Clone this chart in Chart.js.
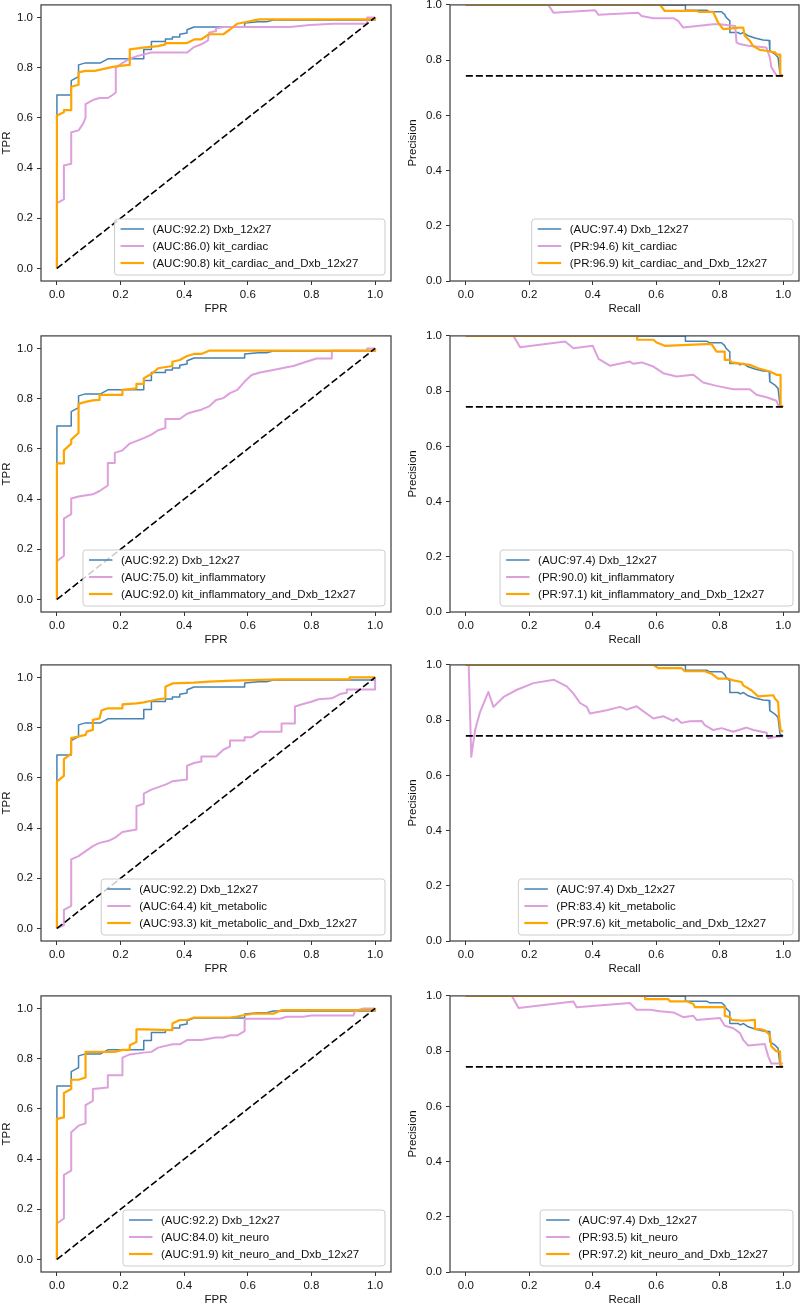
<!DOCTYPE html>
<html>
<head>
<meta charset="utf-8">
<script src="https://cdn.jsdelivr.net/npm/chart.js@4.4.0/dist/chart.umd.min.js"></script>
<style>
  html, body { margin: 0; padding: 0; background: #fff; }
  #wrap { position: relative; width: 800px; height: 1305px; overflow: hidden; }
  #wrap canvas { position: absolute; }
</style>
</head>
<body>
<div id="wrap"></div>
<script>
// ---- data ----
const kitNames = ['kit_cardiac', 'kit_inflammatory', 'kit_metabolic', 'kit_neuro'];
const baseName = 'Dxb_12x27';
const baseRocAuc = 92.2;
const basePrAuc = 97.4;
const kitRocAuc = [86.0, 75.0, 64.4, 84.0];
const comboRocAuc = [90.8, 92.0, 93.3, 91.9];
const kitPrAuc = [94.6, 90.0, 83.4, 93.5];
const comboPrAuc = [96.9, 97.1, 97.6, 97.2];
const unitTicks = [0, 0.2, 0.4, 0.6, 0.8, 1.0];
const prBaseline = 0.743;
const chanceRoc = [[0, 0], [1, 1]];

// ROC curves [fpr, tpr]
const baseRoc = [[0,0],[0,0.609],[0,0.691],[0.045,0.691],[0.045,0.748],[0.068,0.764],[0.068,0.811],[0.09,0.819],[0.137,0.819],[0.16,0.835],[0.273,0.835],[0.273,0.872],[0.297,0.872],[0.297,0.904],[0.341,0.904],[0.341,0.914],[0.363,0.914],[0.363,0.922],[0.386,0.922],[0.386,0.933],[0.409,0.938],[0.409,0.951],[0.431,0.962],[0.59,0.962],[0.59,0.978],[0.633,0.983],[0.659,0.983],[0.68,0.99],[1,0.99],[1,1]];
const cardiacRoc = [[0,0],[0,0.26],[0.022,0.275],[0.022,0.41],[0.045,0.417],[0.045,0.543],[0.068,0.55],[0.082,0.576],[0.09,0.6],[0.09,0.655],[0.113,0.671],[0.134,0.679],[0.16,0.679],[0.176,0.692],[0.185,0.701],[0.185,0.8],[0.208,0.82],[0.229,0.836],[0.255,0.847],[0.297,0.86],[0.409,0.86],[0.431,0.882],[0.454,0.893],[0.475,0.909],[0.478,0.939],[0.5,0.946],[0.5,0.956],[0.523,0.962],[0.732,0.962],[0.795,0.97],[0.869,0.975],[0.975,0.975],[0.975,1],[1,1]];
const cardiacComboRoc = [[0,0],[0,0.609],[0.022,0.622],[0.022,0.631],[0.045,0.631],[0.045,0.724],[0.068,0.732],[0.068,0.781],[0.09,0.787],[0.119,0.787],[0.176,0.803],[0.197,0.807],[0.229,0.811],[0.229,0.873],[0.271,0.88],[0.318,0.886],[0.341,0.893],[0.341,0.898],[0.409,0.898],[0.433,0.913],[0.454,0.913],[0.478,0.933],[0.523,0.933],[0.544,0.952],[0.567,0.975],[0.59,0.981],[0.617,0.988],[0.638,0.992],[1,0.992],[1,1]];
const inflamRoc = [[0,0],[0,0.152],[0.022,0.174],[0.022,0.322],[0.045,0.34],[0.045,0.402],[0.068,0.41],[0.113,0.419],[0.134,0.432],[0.16,0.454],[0.16,0.544],[0.182,0.544],[0.182,0.584],[0.206,0.594],[0.229,0.621],[0.273,0.643],[0.297,0.657],[0.318,0.674],[0.341,0.683],[0.341,0.719],[0.386,0.719],[0.409,0.74],[0.431,0.749],[0.454,0.756],[0.478,0.769],[0.5,0.795],[0.523,0.802],[0.544,0.822],[0.567,0.835],[0.59,0.868],[0.612,0.894],[0.638,0.904],[0.68,0.914],[0.722,0.925],[0.743,0.93],[0.774,0.943],[0.816,0.96],[0.864,0.96],[0.864,0.991],[0.975,0.991],[0.975,1],[1,1]];
const inflamComboRoc = [[0,0],[0,0.542],[0.022,0.542],[0.022,0.594],[0.045,0.621],[0.045,0.637],[0.068,0.663],[0.068,0.779],[0.09,0.787],[0.113,0.793],[0.134,0.795],[0.134,0.815],[0.206,0.815],[0.206,0.835],[0.25,0.841],[0.25,0.859],[0.273,0.859],[0.273,0.881],[0.297,0.898],[0.318,0.921],[0.363,0.93],[0.363,0.947],[0.386,0.954],[0.409,0.97],[0.431,0.978],[0.454,0.978],[0.478,0.991],[1,0.991],[1,1]];
const metabRoc = [[0,0],[0.022,0.013],[0.022,0.074],[0.045,0.09],[0.045,0.275],[0.068,0.288],[0.113,0.328],[0.134,0.341],[0.16,0.348],[0.182,0.361],[0.206,0.384],[0.25,0.394],[0.25,0.487],[0.273,0.497],[0.273,0.537],[0.297,0.553],[0.341,0.573],[0.363,0.586],[0.409,0.593],[0.409,0.648],[0.431,0.659],[0.454,0.665],[0.454,0.685],[0.5,0.685],[0.523,0.712],[0.544,0.725],[0.544,0.749],[0.59,0.749],[0.59,0.762],[0.612,0.762],[0.638,0.784],[0.706,0.784],[0.706,0.817],[0.748,0.817],[0.748,0.884],[0.774,0.894],[0.8,0.903],[0.822,0.913],[0.864,0.917],[0.89,0.934],[0.911,0.939],[0.911,0.952],[1,0.952],[1,1]];
const metabComboRoc = [[0,0],[0,0.585],[0.022,0.608],[0.022,0.675],[0.045,0.696],[0.045,0.758],[0.09,0.771],[0.094,0.784],[0.113,0.791],[0.113,0.831],[0.134,0.837],[0.14,0.868],[0.16,0.877],[0.206,0.877],[0.206,0.893],[0.25,0.897],[0.273,0.901],[0.297,0.907],[0.318,0.913],[0.341,0.917],[0.341,0.963],[0.363,0.976],[0.431,0.979],[0.478,0.983],[0.554,0.987],[0.7,0.992],[0.92,0.992],[0.92,1],[1,1]];
const neuroRoc = [[0,0],[0,0.143],[0.022,0.163],[0.022,0.337],[0.045,0.354],[0.045,0.507],[0.068,0.533],[0.09,0.542],[0.09,0.615],[0.113,0.632],[0.113,0.679],[0.16,0.685],[0.16,0.734],[0.206,0.734],[0.206,0.804],[0.229,0.817],[0.273,0.824],[0.297,0.827],[0.318,0.844],[0.363,0.857],[0.386,0.857],[0.409,0.874],[0.454,0.874],[0.5,0.884],[0.523,0.884],[0.544,0.893],[0.567,0.893],[0.59,0.91],[0.59,0.959],[0.701,0.959],[0.722,0.967],[0.774,0.967],[0.8,0.972],[0.932,0.972],[0.937,0.989],[0.963,1],[1,1]];
const neuroComboRoc = [[0,0],[0,0.56],[0.022,0.566],[0.022,0.663],[0.045,0.679],[0.045,0.716],[0.068,0.716],[0.09,0.725],[0.09,0.827],[0.182,0.827],[0.206,0.835],[0.229,0.835],[0.229,0.853],[0.25,0.866],[0.25,0.917],[0.273,0.917],[0.363,0.914],[0.363,0.94],[0.386,0.954],[0.409,0.954],[0.431,0.964],[0.544,0.964],[0.567,0.968],[0.59,0.974],[0.617,0.979],[0.68,0.979],[0.706,0.993],[1,0.993],[1,1]];

// PR curves [recall, precision]
const basePr = [[0,1],[0.692,1],[0.692,0.981],[0.759,0.981],[0.769,0.975],[0.806,0.975],[0.816,0.965],[0.82,0.955],[0.832,0.942],[0.832,0.9],[0.858,0.9],[0.865,0.895],[0.875,0.9],[0.89,0.888],[0.911,0.88],[0.937,0.873],[0.956,0.871],[0.958,0.834],[0.974,0.822],[0.984,0.81],[0.99,0.75],[1,0.743]];
const cardiacPr = [[0,1],[0.26,1],[0.276,0.972],[0.407,0.981],[0.418,0.964],[0.543,0.972],[0.554,0.96],[0.591,0.952],[0.654,0.952],[0.669,0.942],[0.685,0.918],[0.779,0.93],[0.8,0.93],[0.849,0.924],[0.853,0.864],[0.863,0.858],[0.89,0.852],[0.947,0.846],[0.958,0.81],[0.963,0.774],[0.979,0.744],[1,0.743]];
const cardiacComboPr = [[0,1],[0.612,1],[0.627,0.978],[0.727,0.978],[0.735,0.975],[0.779,0.975],[0.786,0.958],[0.795,0.936],[0.811,0.912],[0.863,0.918],[0.874,0.918],[0.879,0.888],[0.895,0.87],[0.905,0.852],[0.926,0.837],[0.947,0.834],[0.974,0.828],[0.981,0.82],[0.991,0.82],[0.991,0.744],[1,0.743]];
const inflamPr = [[0,1],[0.15,1],[0.171,0.959],[0.313,0.98],[0.339,0.955],[0.4,0.964],[0.418,0.917],[0.454,0.892],[0.517,0.907],[0.528,0.899],[0.554,0.904],[0.591,0.889],[0.622,0.865],[0.664,0.853],[0.717,0.859],[0.748,0.831],[0.79,0.819],[0.843,0.807],[0.895,0.807],[0.916,0.787],[0.948,0.778],[0.979,0.765],[0.986,0.745],[1,0.745]];
const inflamComboPr = [[0,1],[0.54,1],[0.54,0.986],[0.591,0.986],[0.601,0.976],[0.627,0.964],[0.774,0.971],[0.79,0.943],[0.816,0.943],[0.816,0.913],[0.832,0.913],[0.837,0.904],[0.895,0.895],[0.921,0.883],[0.958,0.871],[0.979,0.859],[0.992,0.859],[0.992,0.747],[1,0.745]];
const metabPr = [[0,1],[0.009,1],[0.017,0.667],[0.029,0.764],[0.045,0.83],[0.071,0.902],[0.087,0.848],[0.119,0.884],[0.161,0.91],[0.213,0.934],[0.278,0.946],[0.318,0.922],[0.339,0.896],[0.36,0.862],[0.381,0.848],[0.391,0.824],[0.444,0.836],[0.486,0.848],[0.507,0.838],[0.538,0.85],[0.591,0.806],[0.622,0.814],[0.654,0.797],[0.664,0.806],[0.68,0.79],[0.706,0.796],[0.743,0.797],[0.753,0.782],[0.78,0.764],[0.806,0.771],[0.843,0.758],[0.885,0.773],[0.906,0.764],[0.948,0.754],[0.953,0.734],[0.979,0.74],[1,0.742]];
const metabComboPr = [[0,1],[0.591,1],[0.606,0.988],[0.68,0.988],[0.69,0.977],[0.753,0.977],[0.774,0.968],[0.795,0.95],[0.827,0.95],[0.843,0.944],[0.869,0.938],[0.874,0.926],[0.9,0.908],[0.921,0.886],[0.969,0.89],[0.974,0.878],[0.984,0.866],[0.987,0.812],[0.992,0.764],[1,0.758]];
const neuroPr = [[0,1],[0.145,1],[0.166,0.956],[0.339,0.98],[0.349,0.959],[0.517,0.974],[0.538,0.95],[0.58,0.95],[0.612,0.944],[0.654,0.94],[0.685,0.923],[0.717,0.928],[0.727,0.913],[0.801,0.92],[0.816,0.892],[0.843,0.883],[0.864,0.865],[0.874,0.841],[0.89,0.82],[0.942,0.826],[0.953,0.781],[0.963,0.755],[1,0.755]];
const neuroComboPr = [[0,1],[0.565,1],[0.565,0.988],[0.638,0.988],[0.643,0.98],[0.698,0.98],[0.717,0.971],[0.722,0.959],[0.816,0.959],[0.816,0.928],[0.832,0.923],[0.837,0.913],[0.874,0.91],[0.911,0.913],[0.911,0.88],[0.927,0.88],[0.942,0.875],[0.958,0.859],[0.963,0.817],[0.979,0.799],[0.99,0.799],[0.992,0.743],[1,0.743]];

const kitRocCurves = [cardiacRoc, inflamRoc, metabRoc, neuroRoc];
const comboRocCurves = [cardiacComboRoc, inflamComboRoc, metabComboRoc, neuroComboRoc];
const kitPrCurves = [cardiacPr, inflamPr, metabPr, neuroPr];
const comboPrCurves = [cardiacComboPr, inflamComboPr, metabComboPr, neuroComboPr];

// ---- styling / layout ----
const FONT = "'Liberation Sans', Arial, Helvetica, sans-serif";
const FONT_SIZE = 11.5;
Chart.defaults.font.family = FONT;
Chart.defaults.font.size = FONT_SIZE;
Chart.defaults.color = '#111';

const BLUE = '#4682b4', PINK = '#dda0dd', ORANGE = '#ffa500';
const rowTops = [4, 335, 664, 995];
const boxH = 277;
const PAD_TOP = 10, XAXIS_H = 36;

// box around the plot area (matplotlib spines)
const frame = {
  id: 'frame',
  afterDraw(chart) {
    const { ctx, chartArea: a } = chart;
    ctx.save();
    ctx.strokeStyle = '#3a3a3a';
    ctx.lineWidth = 1.2;
    ctx.strokeRect(a.left, a.top, a.right - a.left, a.bottom - a.top);
    ctx.restore();
  }
};

// legend box in lower right corner, semi transparent like matplotlib
const boxLegend = {
  id: 'boxLegend',
  afterDatasetsDraw(chart) {
    const items = chart.data.datasets.filter(d => d.label);
    const ctx = chart.ctx, a = chart.chartArea;
    ctx.save();
    ctx.font = FONT_SIZE + 'px ' + FONT;
    const tw = Math.max(...items.map(d => ctx.measureText(d.label).width));
    const w = 38 + tw * 1.1 + 6, h = 56;
    const x0 = a.right - 6 - w, y0 = a.bottom - 6 - h;
    ctx.beginPath();
    ctx.roundRect(x0, y0, w, h, 3);
    ctx.fillStyle = 'rgba(255,255,255,0.8)';
    ctx.fill();
    ctx.strokeStyle = 'rgba(200,200,200,0.9)';
    ctx.lineWidth = 1;
    ctx.stroke();
    items.forEach((d, i) => {
      const cy = y0 + 10 + 17 * i;
      ctx.beginPath();
      ctx.moveTo(x0 + 6, cy);
      ctx.lineTo(x0 + 29.5, cy);
      ctx.strokeStyle = d.borderColor;
      ctx.lineWidth = d.borderWidth;
      ctx.stroke();
      ctx.fillStyle = '#111';
      ctx.textBaseline = 'middle';
      ctx.fillText(d.label, x0 + 38, cy + 0.5);
    });
    ctx.restore();
  }
};

function toPts(arr) {
  return arr.map(p => ({ x: p[0], y: p[1] }));
}

function curve(label, pts, color, width, order) {
  return {
    label: label, data: toPts(pts), borderColor: color, borderWidth: width,
    pointRadius: 0, tension: 0, fill: false, order: order, borderJoinStyle: 'round'
  };
}

function dashed(pts) {
  return {
    data: toPts(pts), borderColor: '#000', borderWidth: 1.6, borderDash: [7, 3],
    pointRadius: 0, tension: 0, fill: false, order: 0
  };
}

function makeChart(col, row, datasets, xTitle, yTitle, yMin, yMax) {
  const canvas = document.createElement('canvas');
  const left = col === 0 ? 0 : 400;
  const yAxisW = col === 0 ? 41 : 50;
  const padRight = col === 0 ? 9 : 1;
  canvas.width = 400;
  canvas.height = PAD_TOP + boxH + XAXIS_H;
  canvas.style.left = left + 'px';
  canvas.style.top = (rowTops[row] - PAD_TOP) + 'px';
  document.getElementById('wrap').appendChild(canvas);

  const tickGrid = { drawOnChartArea: false, drawTicks: true, tickLength: 4, tickColor: '#333', tickWidth: 1 };

  new Chart(canvas, {
    type: 'line',
    data: { datasets: datasets },
    options: {
      responsive: false,
      animation: false,
      devicePixelRatio: 1,
      layout: { padding: { top: PAD_TOP, right: padRight, left: 0, bottom: 0 } },
      plugins: { legend: { display: false }, tooltip: { enabled: false } },
      scales: {
        x: {
          type: 'linear', min: -0.05, max: 1.05,
          afterBuildTicks: s => { s.ticks = unitTicks.map(v => ({ value: v })); },
          afterFit: s => { s.height = XAXIS_H; },
          ticks: { callback: v => v.toFixed(1), padding: 3, maxRotation: 0, autoSkip: false },
          grid: tickGrid,
          border: { display: false },
          title: { display: true, text: xTitle, padding: { top: 0, bottom: 1 } }
        },
        y: {
          type: 'linear', min: yMin, max: yMax,
          afterBuildTicks: s => { s.ticks = unitTicks.map(v => ({ value: v })); },
          afterFit: s => { s.width = yAxisW; },
          ticks: { callback: v => v.toFixed(1), padding: 4, autoSkip: false },
          grid: tickGrid,
          border: { display: false },
          title: { display: true, text: yTitle, padding: { top: col === 0 ? 0 : 6, bottom: 0 } }
        }
      }
    },
    plugins: [boxLegend, frame]
  });
}

for (let i = 0; i < kitNames.length; i++) {
  const kit = kitNames[i];
  makeChart(0, i, [
    curve('(AUC:' + baseRocAuc.toFixed(1) + ') ' + baseName, baseRoc, BLUE, 1.5, 3),
    curve('(AUC:' + kitRocAuc[i].toFixed(1) + ') ' + kit, kitRocCurves[i], PINK, 2, 2),
    curve('(AUC:' + comboRocAuc[i].toFixed(1) + ') ' + kit + '_and_' + baseName, comboRocCurves[i], ORANGE, 2.2, 1),
    dashed(chanceRoc)
  ], 'FPR', 'TPR', -0.05, 1.05);

  makeChart(1, i, [
    curve('(AUC:' + basePrAuc.toFixed(1) + ') ' + baseName, basePr, BLUE, 1.5, 3),
    curve('(PR:' + kitPrAuc[i].toFixed(1) + ') ' + kit, kitPrCurves[i], PINK, 2, 2),
    curve('(PR:' + comboPrAuc[i].toFixed(1) + ') ' + kit + '_and_' + baseName, comboPrCurves[i], ORANGE, 2.2, 1),
    dashed([[0, prBaseline], [1, prBaseline]])
  ], 'Recall', 'Precision', 0, 1);
}
</script>
</body>
</html>
